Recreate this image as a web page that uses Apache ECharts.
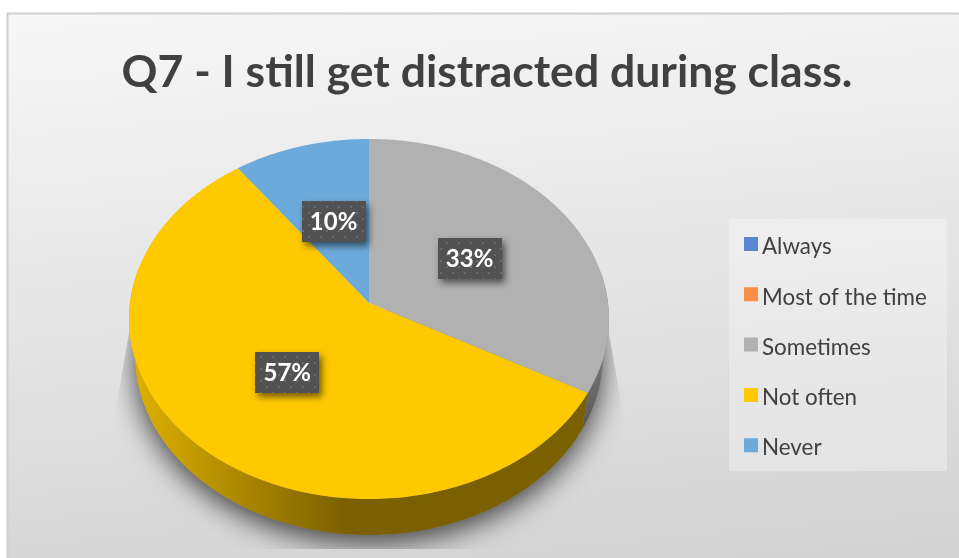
<!DOCTYPE html>
<html>
<head>
<meta charset="utf-8">
<style>html,body{margin:0;padding:0;background:#fff}#chart{width:959px;height:558px}</style>
<script src="https://cdn.jsdelivr.net/npm/echarts@6/dist/echarts.min.js"></script>
</head>
<body>
<div id="chart"></div>
<script>
const titleText = 'Q7 - I still get distracted during class.';
const categories = ['Always', 'Most of the time', 'Sometimes', 'Not often', 'Never'];
const shares = [0, 0, 33, 57, 10];
const sliceColors = ['#5b87d2', '#f79046', '#b1b1b1', '#ffc900', '#6caadb'];

// Tilted-disc projection of the pie
const CX = 369, APEX_Y = 303, RX = 239, RY = 178.6, TILT = 0.0888;
const DEPTH = 36, FOOT_SCALE = 0.975;
const FONT = 'Lato, "Open Sans", sans-serif';

function rim(deg, r) {
  const t = deg * Math.PI / 180;
  const w = 1 + TILT * r * Math.cos(t);
  return [CX + RX * r * Math.sin(t) / w, APEX_Y - RY * r * Math.cos(t) / w];
}
function foot(deg) {
  const p = rim(deg, 1);
  return [CX + (p[0] - CX) * FOOT_SCALE, p[1] + DEPTH];
}
function arc(a, b, fn) {
  const pts = [];
  const n = Math.max(2, Math.ceil(Math.abs(b - a)));
  for (let i = 0; i <= n; i++) pts.push(fn(a + (b - a) * i / n));
  return pts;
}

// Dotted fill of the value labels
const dots = document.createElement('canvas');
dots.width = 12; dots.height = 12;
(function () {
  const c = dots.getContext('2d');
  c.fillStyle = '#525252'; c.fillRect(0, 0, 12, 12);
  c.fillStyle = '#686868';
  c.fillRect(2, 2, 2, 2); c.fillRect(8, 8, 2, 2);
})();

const wallFills = {
  Sometimes: new echarts.graphic.LinearGradient(0, 345, 0, 432, [
    { offset: 0, color: '#7d7d7d' }, { offset: 1, color: '#555555' }], true),
  'Not often': new echarts.graphic.LinearGradient(135, 0, 345, 0, [
    { offset: 0, color: '#dfb000' }, { offset: 1, color: '#7a6000' }], true)
};

function renderSlice(params, api) {
  const start = api.value(0), end = api.value(1);
  if (end <= start) return null;
  const name = categories[params.seriesIndex - 1];
  const children = [];

  // Side wall, only on the part of the rim facing the viewer
  const a = Math.max(start, 80), b = Math.min(end, 282);
  if (b > a) {
    children.push({
      type: 'polygon', z2: 1, silent: true,
      shape: { points: arc(a, b, d => rim(d, 1)).concat(arc(b, a, foot)) },
      style: { fill: wallFills[name] || api.visual('color') }
    });
  }
  // Top face
  children.push({
    type: 'polygon', z2: 2,
    shape: { points: [rim(0, 0)].concat(arc(start, end, d => rim(d, 1))) },
    style: { fill: api.visual('color') }
  });
  // Value label at half the radius along the slice's middle
  const c = rim((start + end) / 2, 0.5);
  const w = 64, h = 41;
  children.push({
    type: 'rect', z2: 3,
    shape: { x: Math.round(c[0] - w / 2), y: Math.round(c[1] - h / 2), width: w, height: h },
    style: {
      fill: { image: dots, repeat: 'repeat' },
      shadowBlur: 7, shadowOffsetX: 3, shadowOffsetY: 4, shadowColor: 'rgba(0,0,0,0.55)'
    }
  });
  children.push({
    type: 'text', z2: 4,
    x: c[0], y: c[1] + 1,
    style: {
      text: Math.round(api.value(2)) + '%',
      fill: '#ffffff', font: 'bold 24px ' + FONT, align: 'center', verticalAlign: 'middle'
    }
  });
  return { type: 'group', children };
}

// Soft cast shadow under the disc
function renderShadow() {
  return {
    type: 'polygon', silent: true,
    shape: { points: arc(0, 360, foot) },
    clipPath: {
      type: 'polygon',
      shape: { points: [[133, 310], [113, 425], [113, 549], [625, 549], [625, 425], [605, 310]] }
    },
    style: { fill: '#8a8a8a', shadowBlur: 28, shadowOffsetY: 8, shadowColor: 'rgba(0,0,0,0.7)' }
  };
}

let running = 0;
const sliceSeries = categories.map((name, i) => {
  const start = running / 100 * 360;
  running += shares[i];
  const end = running / 100 * 360;
  return {
    type: 'custom', name, coordinateSystem: 'none', z: 3,
    itemStyle: { color: sliceColors[i] },
    renderItem: renderSlice,
    data: [[start, end, shares[i]]]
  };
});

const chart = echarts.init(document.getElementById('chart'), null, { renderer: 'canvas' });
chart.setOption({
  animation: false,
  backgroundColor: '#ffffff',
  color: sliceColors,
  title: {
    text: titleText, left: 487, top: 50, textAlign: 'center', padding: 0,
    textStyle: { color: '#404040', fontFamily: FONT, fontWeight: 'bold', fontSize: 44.5 }
  },
  legend: {
    data: categories, orient: 'vertical', left: 744, top: 235, padding: 0,
    // Swatch sits in the upper part of a taller symbol box, a little above the text's middle
    icon: 'path://M0 0H14V14H0ZM0 20H0.01V19.99Z',
    itemWidth: 14, itemHeight: 20, itemGap: 26.3,
    textStyle: { color: '#404040', fontFamily: FONT, fontSize: 22.4, padding: [0, 0, 0, -1], lineHeight: 24 },
    selectedMode: false
  },
  graphic: [
    {
      type: 'rect', z: -2, silent: true,
      shape: { x: 7.5, y: 13.5, width: 960, height: 560 },
      style: {
        fill: new echarts.graphic.LinearGradient(7, 13, 65, 641, [
          { offset: 0, color: '#f7f7f7' }, { offset: 1, color: '#d2d2d2' }], true),
        stroke: '#cfcfcf', lineWidth: 2
      }
    },
    {
      type: 'rect', z: -1, silent: true,
      shape: { x: 729, y: 219, width: 218, height: 252 },
      style: { fill: 'rgba(255,255,255,0.3)' }
    }
  ],
  series: [{
    type: 'custom', coordinateSystem: 'none', z: 2, silent: true,
    renderItem: renderShadow, data: [[0]]
  }].concat(sliceSeries)
});
</script>
</body>
</html>
